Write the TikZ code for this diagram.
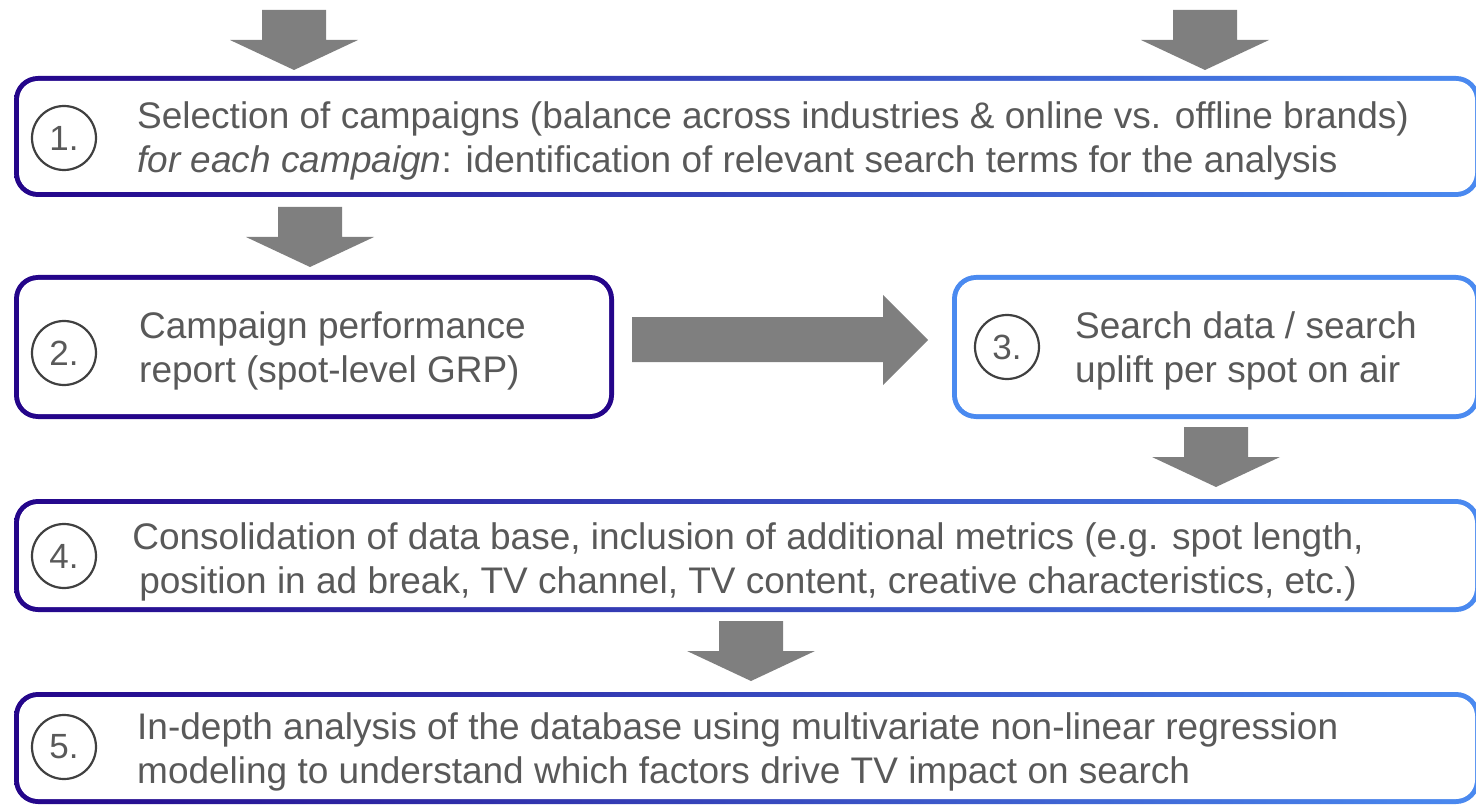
\documentclass[tikz,border=0pt]{standalone}
\usepackage{fontspec}
\setmainfont{Liberation Sans}
\definecolor{ind}{HTML}{24058A}
\definecolor{blu}{HTML}{4A8AF0}
\definecolor{txt}{HTML}{595959}
\definecolor{arr}{HTML}{7F7F7F}
\definecolor{circ}{HTML}{404040}
\tikzset{
  outerbox/.style={rounded corners=24pt, inner sep=0pt, minimum width=#1},
  innerbox/.style={fill=white, rounded corners=19pt, inner sep=0pt},
  numcirc/.style={circle, draw=circ, line width=2.2pt, minimum size=64pt, inner sep=0pt,
    text=txt, font=\fontsize{35}{35}\selectfont},
  boxtext/.style={text=txt, font=\fontsize{37}{43.5}\selectfont, inner sep=0pt},
  pics/downarrow/.style={code={
    \fill[arr] (-32,0) -- (32,0) -- (32,30) -- (64,30) -- (0,60) -- (-64,30) -- (-32,30) -- cycle;}},
}
\begin{document}
\begin{tikzpicture}[x=1pt,y=-1pt]
\useasboundingbox (0,0) rectangle (1476,805);
% box 1
\node[outerbox=1466pt, minimum height=121pt, left color=ind, right color=blu] (b1) at (747,136.5) {};
\node[innerbox, minimum width=1456pt, minimum height=111pt] (b1i) at (b1.center) {};
% box 2
\node[outerbox=600pt, minimum height=144pt, fill=ind] (b2) at (314,347) {};
\node[innerbox, minimum width=590pt, minimum height=134pt] (b2i) at (b2.center) {};
% box 3
\node[outerbox=528pt, minimum height=144pt, fill=blu] (b3) at (1216,347) {};
\node[innerbox, minimum width=518pt, minimum height=134pt] (b3i) at (b3.center) {};
% box 4
\node[outerbox=1466pt, minimum height=113pt, left color=ind, right color=blu] (b4) at (747,555.5) {};
\node[innerbox, minimum width=1456pt, minimum height=103pt] (b4i) at (b4.center) {};
% box 5
\node[outerbox=1466pt, minimum height=112pt, left color=ind, right color=blu] (b5) at (747,748) {};
\node[innerbox, minimum width=1456pt, minimum height=102pt] (b5i) at (b5.center) {};
% circles
\node[numcirc] (c1) at (64,138) {1.};
\node[numcirc] (c2) at (64,353) {2.};
\node[numcirc] (c3) at (1007,347) {3.};
\node[numcirc] (c4) at (64,556) {4.};
\node[numcirc] (c5) at (64,747) {5.};
% texts
\node[boxtext, anchor=west, align=left] (t1) at (137,141) {Selection of campaigns (balance across industries \& online vs. offline brands)\\\textit{for each campaign}: identification of relevant search terms for the analysis};
\node[boxtext, anchor=west, align=left] (t2) at (139,351) {Campaign performance\\report (spot-level GRP)};
\node[boxtext, anchor=west, align=left] (t3) at (1075,351) {Search data / search\\uplift per spot on air};
\node[boxtext, align=center] (t4) at (748,562) {Consolidation of data base, inclusion of additional metrics (e.g. spot length,\\position in ad break, TV channel, TV content, creative characteristics, etc.)};
\node[boxtext, anchor=west, align=left] (t5) at (137,752) {In-depth analysis of the database using multivariate non-linear regression\\modeling to understand which factors drive TV impact on search};
% arrows
\coordinate (a0l) at (294,10);
\coordinate (a0r) at (1205,10);
\coordinate (a12) at (310,207);
\coordinate (a34) at (1216,427);
\coordinate (a45) at (751,621);
\pic at (a0l) {downarrow};
\pic at (a0r) {downarrow};
\pic at (a12) {downarrow};
\pic at (a34) {downarrow};
\pic at (a45) {downarrow};
\fill[arr] (632,317) -- (883,317) -- (883,295) -- (928,340) -- (883,385) -- (883,362) -- (632,362) -- cycle;
\end{tikzpicture}
\end{document}
